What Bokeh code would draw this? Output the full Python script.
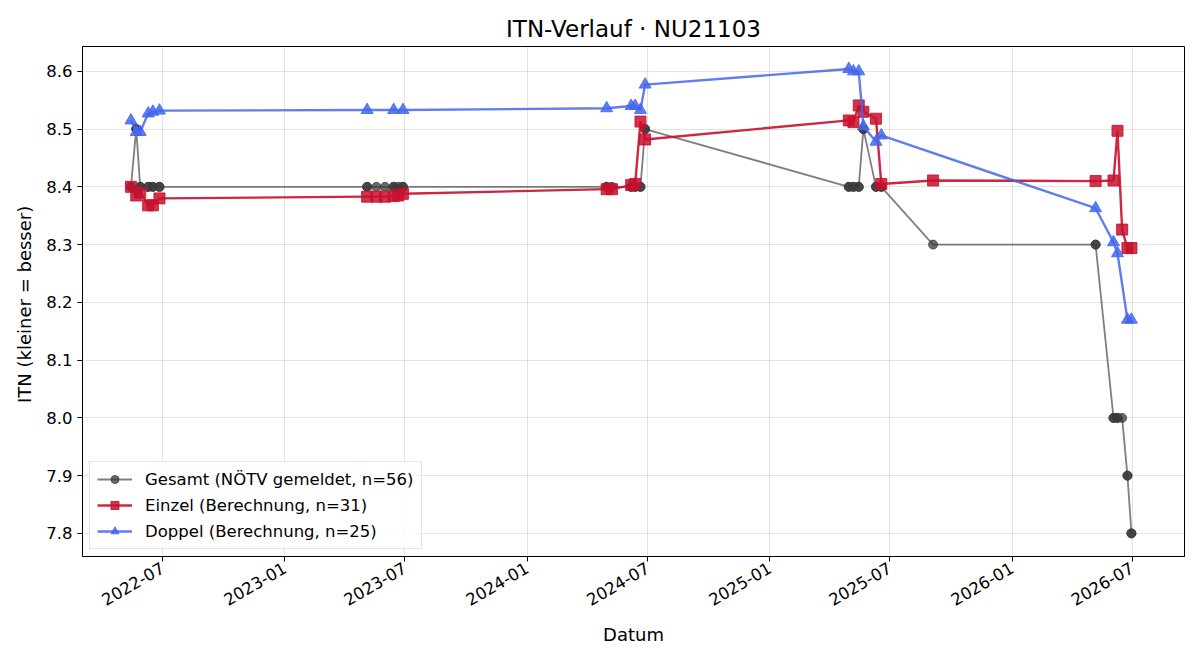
from datetime import datetime
import math

from bokeh.plotting import figure
from bokeh.models import (Range1d, FixedTicker, DatetimeTickFormatter,
                          PrintfTickFormatter, Legend, LegendItem, ColumnDataSource)
from bokeh.embed import file_html
from bokeh.resources import INLINE

# --- ITN history of player NU21103 ---------------------------------------

# reported overall ITN (one entry per match)
gesamt_dates = [
    "2022-05-14", "2022-05-14", "2022-05-22", "2022-05-22", "2022-05-28", "2022-05-28",
    "2022-06-09", "2022-06-09", "2022-06-16", "2022-06-16", "2022-06-26", "2022-06-26",
    "2023-05-05", "2023-05-05", "2023-05-19", "2023-06-01", "2023-06-14", "2023-06-14",
    "2023-06-21", "2023-06-28", "2023-06-28",
    "2024-04-30", "2024-04-30", "2024-05-08", "2024-06-06", "2024-06-06", "2024-06-12",
    "2024-06-12", "2024-06-20", "2024-06-20", "2024-06-27", "2024-06-27",
    "2025-04-30", "2025-04-30", "2025-05-07", "2025-05-07", "2025-05-15", "2025-05-15",
    "2025-05-22", "2025-05-22", "2025-06-10", "2025-06-10", "2025-06-18", "2025-06-18",
    "2025-09-04",
    "2026-05-07", "2026-05-07", "2026-06-03", "2026-06-03", "2026-06-09", "2026-06-09",
    "2026-06-16", "2026-06-24", "2026-06-24", "2026-06-30", "2026-06-30",
]
gesamt_itn = [
    8.4, 8.4, 8.5, 8.5, 8.4, 8.4,
    8.4, 8.4, 8.4, 8.4, 8.4, 8.4,
    8.4, 8.4, 8.4, 8.4, 8.4, 8.4,
    8.4, 8.4, 8.4,
    8.4, 8.4, 8.4, 8.4, 8.4, 8.4,
    8.4, 8.4, 8.4, 8.5, 8.5,
    8.4, 8.4, 8.4, 8.4, 8.4, 8.4,
    8.5, 8.5, 8.4, 8.4, 8.4, 8.4,
    8.3,
    8.3, 8.3, 8.0, 8.0, 8.0, 8.0,
    8.0, 7.9, 7.9, 7.8, 7.8,
]

# computed singles ITN
einzel_dates = [
    "2022-05-14", "2022-05-22", "2022-05-28", "2022-06-09", "2022-06-16", "2022-06-26",
    "2023-05-05", "2023-05-19", "2023-06-01", "2023-06-14", "2023-06-21", "2023-06-28",
    "2024-04-30", "2024-05-08", "2024-06-06", "2024-06-12", "2024-06-20", "2024-06-27",
    "2025-04-30", "2025-05-07", "2025-05-15", "2025-05-22", "2025-06-10", "2025-06-18",
    "2025-09-04",
    "2026-05-07", "2026-06-03", "2026-06-09", "2026-06-16", "2026-06-24", "2026-06-30",
]
einzel_itn = [
    8.400, 8.385, 8.390, 8.368, 8.368, 8.380,
    8.383, 8.383, 8.383, 8.384, 8.385, 8.388,
    8.396, 8.396, 8.403, 8.405, 8.513, 8.482,
    8.515, 8.512, 8.541, 8.530, 8.518, 8.405,
    8.411,
    8.410, 8.411, 8.497, 8.326, 8.294, 8.294,
]

# computed doubles ITN
doppel_dates = [
    "2022-05-14", "2022-05-22", "2022-05-28", "2022-06-09", "2022-06-16", "2022-06-26",
    "2023-05-05", "2023-06-14", "2023-06-28",
    "2024-04-30", "2024-06-06", "2024-06-12", "2024-06-20", "2024-06-27",
    "2025-04-30", "2025-05-07", "2025-05-15", "2025-05-22", "2025-06-10", "2025-06-18",
    "2026-05-07", "2026-06-03", "2026-06-09", "2026-06-24", "2026-06-30",
]
doppel_itn = [
    8.515, 8.495, 8.495, 8.527, 8.530, 8.532,
    8.533, 8.533, 8.533,
    8.536, 8.540, 8.540, 8.533, 8.577,
    8.604, 8.600, 8.600, 8.505, 8.478, 8.489,
    8.363, 8.304, 8.285, 8.170, 8.170,
]

x_tick_dates = ["2022-07-01", "2023-01-01", "2023-07-01", "2024-01-01", "2024-07-01",
                "2025-01-01", "2025-07-01", "2026-01-01", "2026-07-01"]
y_ticks = [7.8, 7.9, 8.0, 8.1, 8.2, 8.3, 8.4, 8.5, 8.6]

FONT = "DejaVu Sans"
EPOCH = datetime(1970, 1, 1)


def to_dt(s):
    return datetime.strptime(s, "%Y-%m-%d")


def to_ms(s):
    return (to_dt(s) - EPOCH).total_seconds() * 1000.0


p = figure(
    width=1200, height=660,
    x_axis_type="datetime",
    x_range=Range1d(start=datetime(2022, 3, 2), end=datetime(2026, 9, 18)),
    y_range=Range1d(start=7.760, end=8.643),
    output_backend="svg",
    toolbar_location=None,
    title="ITN-Verlauf · NU21103",
    min_border_left=82, min_border_right=16,
    min_border_top=46, min_border_bottom=104,
)
p.background_fill_color = "white"
p.border_fill_color = "white"
p.outline_line_color = "black"
p.outline_line_width = 1

p.title.align = "center"
p.title.text_font = FONT
p.title.text_font_size = "23px"
p.title.text_font_style = "normal"
p.title.text_color = "black"
p.title.standoff = 9

# axes
for ax in (p.xaxis[0], p.yaxis[0]):
    ax.axis_line_color = "black"
    ax.major_tick_line_color = "black"
    ax.major_tick_out = 5
    ax.major_tick_in = 0
    ax.minor_tick_line_color = None
    ax.major_label_text_font = FONT
    ax.major_label_text_font_size = "16.5px"
    ax.major_label_text_color = "black"
    ax.axis_label_text_font = FONT
    ax.axis_label_text_font_size = "18px"
    ax.axis_label_text_font_style = "normal"
    ax.axis_label_text_color = "black"

p.xaxis.ticker = FixedTicker(ticks=[to_ms(s) for s in x_tick_dates])
p.xaxis.formatter = DatetimeTickFormatter(
    days="%Y-%m", months="%Y-%m", years="%Y-%m", hours="%Y-%m",
)
p.xaxis.major_label_orientation = math.pi / 6
p.xaxis.axis_label = "Datum"
p.xaxis.axis_label_standoff = 10

p.yaxis.ticker = FixedTicker(ticks=y_ticks)
p.yaxis.formatter = PrintfTickFormatter(format="%.1f")
p.yaxis.axis_label = "ITN  (kleiner = besser)"
p.yaxis.axis_label_standoff = 8

for g in (p.xgrid[0], p.ygrid[0]):
    g.grid_line_color = "#b0b0b0"
    g.grid_line_alpha = 0.35
    g.grid_line_width = 1
p.xgrid.ticker = p.xaxis.ticker
p.ygrid.ticker = p.yaxis.ticker

# series
src_g = ColumnDataSource(dict(x=[to_dt(s) for s in gesamt_dates], y=gesamt_itn))
src_e = ColumnDataSource(dict(x=[to_dt(s) for s in einzel_dates], y=einzel_itn))
src_d = ColumnDataSource(dict(x=[to_dt(s) for s in doppel_dates], y=doppel_itn))

GRAY, RED, BLUE = "#3a3a3a", "#c8102e", "#4466ee"

gl = p.line("x", "y", source=src_g, line_color=GRAY, line_alpha=0.65, line_width=1.8)
gs = p.scatter("x", "y", source=src_g, marker="circle", size=9,
               fill_color=GRAY, line_color=GRAY, fill_alpha=0.75, line_alpha=0.75)

el = p.line("x", "y", source=src_e, line_color=RED, line_alpha=0.9, line_width=2.4)
es = p.scatter("x", "y", source=src_e, marker="square", size=11,
               fill_color=RED, line_color=RED, fill_alpha=0.85, line_alpha=0.85)

dl = p.line("x", "y", source=src_d, line_color=BLUE, line_alpha=0.85, line_width=2.4)
ds = p.scatter("x", "y", source=src_d, marker="triangle", size=12,
               fill_color=BLUE, line_color=BLUE, fill_alpha=0.85, line_alpha=0.85)

legend = Legend(
    items=[
        LegendItem(label="Gesamt (NÖTV gemeldet, n=56)", renderers=[gl, gs]),
        LegendItem(label="Einzel (Berechnung, n=31)", renderers=[el, es]),
        LegendItem(label="Doppel (Berechnung, n=25)", renderers=[dl, ds]),
    ],
    location="bottom_left",
    margin=7, padding=7, spacing=6,
    glyph_width=35, glyph_height=20, label_height=20, label_standoff=13,
    label_text_font=FONT, label_text_font_size="16.5px", label_text_color="black",
    background_fill_color="white", background_fill_alpha=0.8,
    border_line_color="#cccccc", border_line_width=1,
)
p.add_layout(legend, "center")

open("out.html", "w").write(file_html(p, INLINE))
